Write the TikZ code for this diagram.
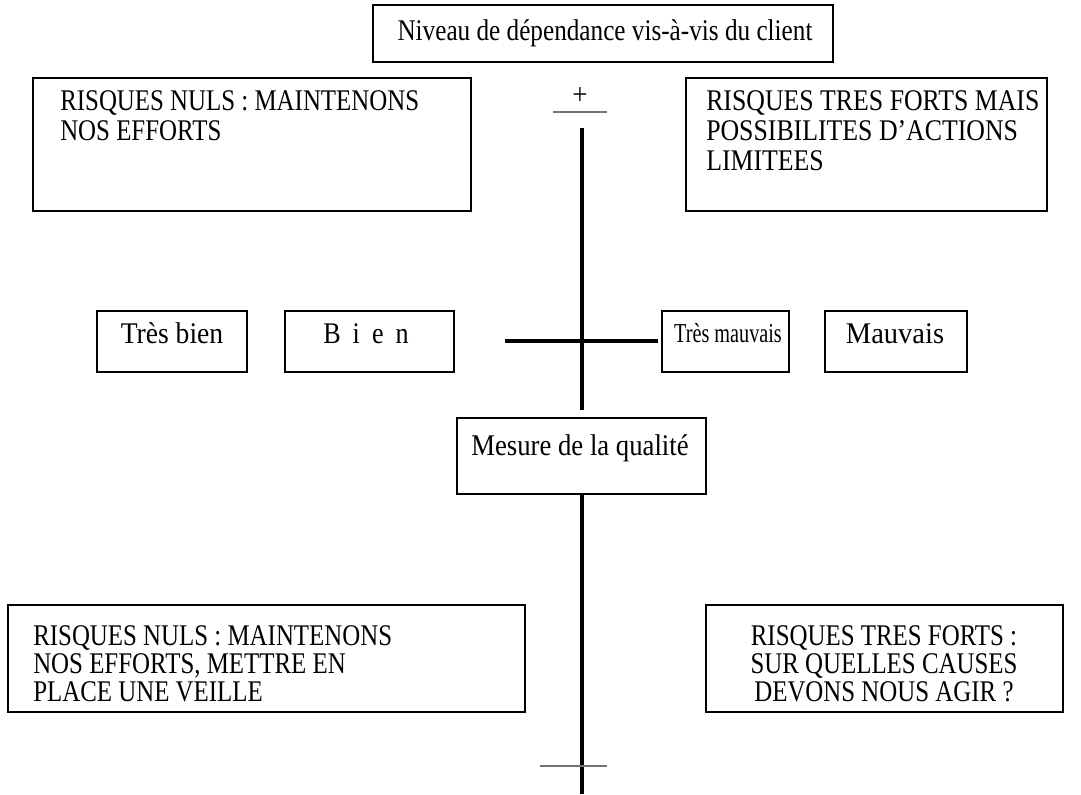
\documentclass[tikz,border=0pt]{standalone}
\usepackage{fontspec}
\setmainfont{Liberation Serif}
\usetikzlibrary{fit}
\newcommand\sty[2]{\fontsize{22.5}{#2}\selectfont\addfontfeatures{FakeStretch=#1}}
\begin{document}
\begin{tikzpicture}[x=0.75pt,y=-0.75pt,
  box/.style={draw, line width=1pt, inner sep=0pt},
  txt/.style={font=\sty{#1}{22.5}, inner sep=0pt, align=left},
  txtb/.style={font=\sty{#1}{21}, inner sep=0pt},
  axis/.style={line width=3pt},
  tickline/.style={line width=1pt, draw=black!55}]
\useasboundingbox (0,0) rectangle (1081,794);
% boxes
\node[box, fit={(373,5)(833,62)}] (niveau) {};
\node[box, fit={(33,78)(471,211)}] (tl) {};
\node[box, fit={(686,78)(1047,211)}] (tr) {};
\node[box, fit={(97,311)(247,372)}] (tb) {};
\node[box, fit={(285,311)(454,372)}] (bi) {};
\node[box, fit={(662,311)(789,372)}] (tm) {};
\node[box, fit={(825,311)(967,372)}] (ma) {};
\node[box, fit={(457,418)(706,494)}] (mq) {};
\node[box, fit={(8,605)(525,712)}] (bl) {};
\node[box, fit={(706,605)(1063,712)}] (br) {};
% texts
\node[txt=0.84, anchor=base] (niveau-t) at (605,40) {Niveau de dépendance vis-à-vis du client};
\node[txt=0.83, anchor=north west] (tl-t) at (60,90) {RISQUES NULS : MAINTENONS\\NOS EFFORTS};
\node[txt=0.86, anchor=north west] (tr-t) at (706,90) {RISQUES TRES FORTS MAIS\\POSSIBILITES D’ACTIONS\\LIMITEES};
\node[txt=0.92, anchor=base] (tb-t) at (172,343) {Très bien};
\node[txt=0.87, anchor=base] (bi-t) at (366,343) {\spaceskip=0.4em B i e n};
\node[font={\fontsize{20.5}{22.5}\selectfont\addfontfeatures{FakeStretch=0.74}}, inner sep=0pt, anchor=base] (tm-t) at (728,342) {Très mauvais};
\node[txt=0.95, anchor=base] (ma-t) at (895,343) {Mauvais};
\node[txt=0.89, anchor=base] (mq-t) at (580,455) {Mesure de la qualité};
\node[txtb=0.83, anchor=north west, align=left] (bl-t) at (33,625) {RISQUES NULS : MAINTENONS\\NOS EFFORTS, METTRE EN\\PLACE UNE VEILLE};
\node[txtb=0.83, anchor=north, align=center] (br-t) at (884,625) {RISQUES TRES FORTS :\\SUR QUELLES CAUSES\\DEVONS NOUS AGIR ?};
% axes
\node[txt=0.9, anchor=center] (plus) at (580,96) {+};
\coordinate (pl-l) at (553,112);
\coordinate (pl-r) at (607,112);
\draw[tickline] (pl-l) -- (pl-r);
\coordinate (vtop) at (582,128);
\coordinate (vmid) at (582,410);
\draw[axis] (vtop) -- (vmid);
\coordinate (hl) at (505,341);
\coordinate (hr) at (658,341);
\draw[axis] (hl) -- (hr);
\coordinate (vbot) at (582,794);
\draw[axis] (mq.south -| vbot) -- (vbot);
\coordinate (tk-l) at (540,766);
\coordinate (tk-r) at (607,766);
\draw[tickline] (tk-l) -- (tk-r);
\end{tikzpicture}
\end{document}
